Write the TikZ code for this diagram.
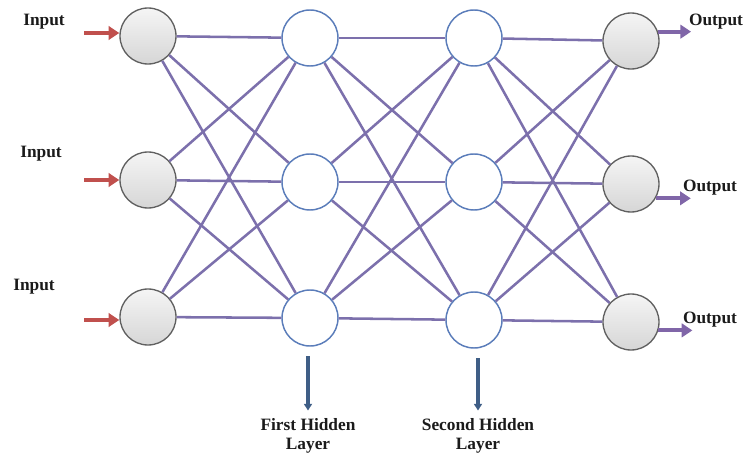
\documentclass[tikz,border=0pt]{standalone}
\usepackage{fontspec}
\setmainfont{Liberation Serif}
\usetikzlibrary{arrows.meta,calc,positioning}
\definecolor{wire}{HTML}{7C70AC}
\definecolor{inred}{HTML}{C0504D}
\definecolor{outpurple}{HTML}{8066A8}
\definecolor{hidblue}{HTML}{5B7DBA}
\definecolor{downblue}{HTML}{3F5E86}
\definecolor{ink}{HTML}{1A1A1A}

\begin{document}
\begin{tikzpicture}[
    x=0.75pt, y=-0.75pt,
    unit/.style={circle, draw=gray!75!black, line width=1pt,
                 minimum size=42pt, inner sep=0pt,
                 top color=gray!8, bottom color=gray!32},
    hidden/.style={circle, draw=hidblue, line width=1.1pt, fill=white,
                   minimum size=42pt, inner sep=0pt},
    tag/.style={font=\bfseries\fontsize{13}{14}\selectfont, text=ink,
                align=center, inner sep=1pt},
    wire/.style={draw=wire, line width=1.9pt},
    arrow/.style={-{Triangle[length=8pt,width=10pt]}, line width=3pt, draw=#1},
    down/.style={-{Triangle[length=5pt,width=6pt]}, line width=2.6pt, draw=downblue}
]
\useasboundingbox (0,0) rectangle (744,453);

% Input layer
\node[unit] (i1) at (148,36) {};
\node[unit] (i2) at (148,180) {};
\node[unit] (i3) at (148,317) {};

% Hidden layers
\node[hidden] (ha1) at (310,38) {};
\node[hidden] (ha2) at (310,182) {};
\node[hidden] (ha3) at (310,318) {};
\node[hidden] (hb1) at (474,38) {};
\node[hidden] (hb2) at (474,182) {};
\node[hidden] (hb3) at (474,320) {};

% Output layer
\node[unit] (o1) at (631,41) {};
\node[unit] (o2) at (631,184) {};
\node[unit] (o3) at (631,322) {};

% Weights
\foreach \a in {1,2,3} {
  \foreach \b in {1,2,3} {
    \draw[wire] (i\a) -- (ha\b);
    \draw[wire] (ha\a) -- (hb\b);
    \draw[wire] (hb\a) -- (o\b);
  }
}

% Labels
\node[tag] (in1) at (44,22) {Input};
\node[tag] (in2) at (41,154) {Input};
\node[tag] (in3) at (34,287) {Input};
\node[tag] (out1) at (716,22) {Output};
\node[tag] (out2) at (710,188) {Output};
\node[tag] (out3) at (710,320) {Output};
\node[tag] (la) at (308,436) {First Hidden\\Layer};
\node[tag] (lb) at (478,436) {Second Hidden\\Layer};

% Input and output arrows
\coordinate (ia1) at (84,33);
\coordinate (ia2) at (84,180);
\coordinate (ia3) at (84,320);
\draw[arrow=inred] (ia1) -- (ia1 -| i1.west);
\draw[arrow=inred] (ia2) -- (ia2 -| i2.west);
\draw[arrow=inred] (ia3) -- (ia3 -| i3.west);
\coordinate (oa1) at ($(o1.19)+(33,0)$);
\coordinate (oa2) at ($(o2.-30)+(35,0)$);
\coordinate (oa3) at ($(o3.-17)+(34,0)$);
\draw[arrow=outpurple] (o1.19) -- (oa1);
\draw[arrow=outpurple] (o2.-30) -- (oa2);
\draw[arrow=outpurple] (o3.-17) -- (oa3);

% Layer pointers
\draw[down, shorten <=7pt, shorten >=5pt] (ha3.south -| la) -- (la);
\draw[down, shorten <=7pt, shorten >=5pt] (hb3.south -| lb) -- (lb);

\end{tikzpicture}
\end{document}
